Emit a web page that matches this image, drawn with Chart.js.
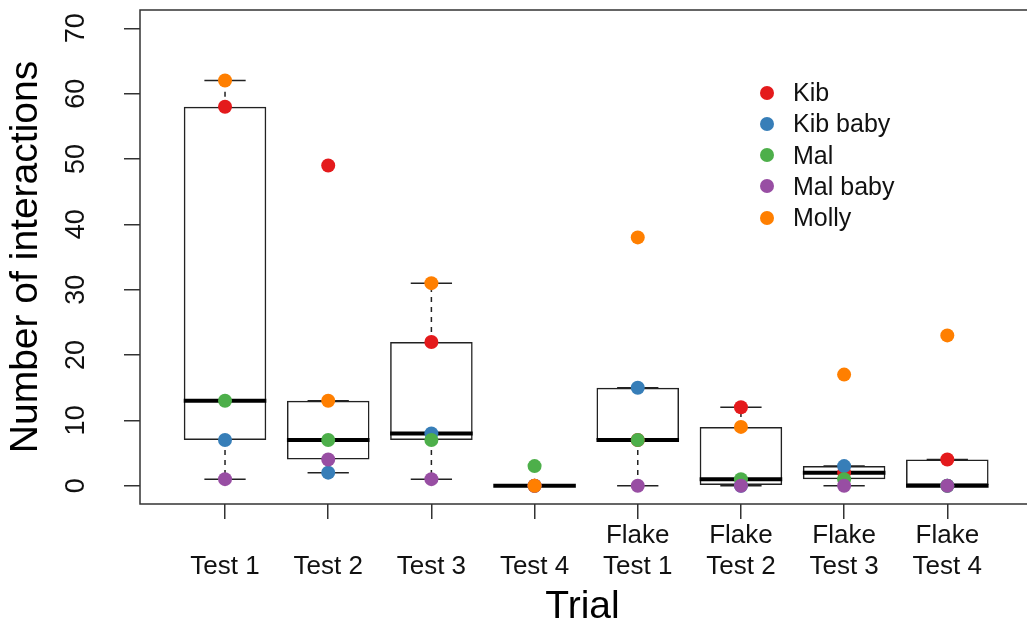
<!DOCTYPE html>
<html>
<head>
<meta charset="utf-8">
<script src="https://cdn.jsdelivr.net/npm/chart.js@4.4.1/dist/chart.umd.min.js"></script>
<style>
  html, body { margin: 0; padding: 0; background: #fff; }
  #wrap { position: relative; width: 1032px; height: 631px; overflow: hidden; }
  #legend {
    position: absolute; left: 760px; top: 77px;
    font-family: "Liberation Sans", Arial, sans-serif; font-size: 25px; color: #111;
  }
  #legend .row { height: 31.25px; display: flex; align-items: center; white-space: nowrap; }
  #legend .dot { width: 14px; height: 14px; border-radius: 50%; margin-right: 19px; }
</style>
</head>
<body>
<div id="wrap">
  <canvas id="trialChart" width="1032" height="631"></canvas>
  <div id="legend"></div>
</div>
<script>
//-----------------------------------------
// DATA
//-----------------------------------------
const trialLabels = [
  ["", "Test 1"], ["", "Test 2"], ["", "Test 3"], ["", "Test 4"],
  ["Flake", "Test 1"], ["Flake", "Test 2"], ["Flake", "Test 3"], ["Flake", "Test 4"]
];
const trialPos = [1, 2, 3, 4, 5, 6, 7, 8];

const animals = ["Kib", "Kib baby", "Mal", "Mal baby", "Molly"];
const animalColors = ["#E41A1C", "#377EB8", "#4DAF4A", "#984EA3", "#FF7F00"];

// interactions per trial, one array per animal
const kib     = [58, 49, 22, 0, 7, 12, 2, 4];
const kibBaby = [7, 2, 8, 0, 15, 0, 3, 0];
const mal     = [13, 7, 7, 3, 7, 1, 1, 0];
const malBaby = [1, 4, 1, 0, 0, 0, 0, 0];
const molly   = [62, 13, 31, 0, 38, 9, 17, 23];
const animalSeries = [kib, kibBaby, mal, malBaby, molly];

// boxplot stats per trial (hinges, median, whisker ends)
const boxLow      = [7, 4, 7, 0, 7, 0, 1, 0];
const boxMedian   = [13, 7, 8, 0, 7, 1, 2, 0];
const boxHigh     = [58, 13, 22, 0, 15, 9, 3, 4];
const whiskerLow  = [1, 2, 1, 0, 0, 0, 0, 0];
const whiskerHigh = [62, 13, 31, 0, 15, 12, 3, 4];

const yTicks = [0, 10, 20, 30, 40, 50, 60, 70];

const FONT = '"Liberation Sans", Arial, Helvetica, sans-serif';
Chart.defaults.font.family = FONT;
Chart.defaults.color = "#111";

//-----------------------------------------
// PLUGINS
//-----------------------------------------
// whiskers, staples and medians, drawn right after the boxes
const boxExtras = {
  id: "boxExtras",
  afterDatasetDraw(chart, args) {
    if (args.index !== 0) return;
    const ctx = chart.ctx;
    const xs = chart.scales.x, ys = chart.scales.y;
    const bars = chart.getDatasetMeta(0).data;

    ctx.save();
    for (let i = 0; i < trialPos.length; i++) {
      const x = xs.getPixelForValue(trialPos[i]);
      const w = bars[i].width;

      // dashed whiskers
      ctx.strokeStyle = "#222";
      ctx.lineWidth = 1.5;
      ctx.setLineDash([5, 5]);
      ctx.beginPath();
      if (whiskerHigh[i] > boxHigh[i]) {
        ctx.moveTo(x, ys.getPixelForValue(boxHigh[i]));
        ctx.lineTo(x, ys.getPixelForValue(whiskerHigh[i]));
      }
      if (whiskerLow[i] < boxLow[i]) {
        ctx.moveTo(x, ys.getPixelForValue(boxLow[i]));
        ctx.lineTo(x, ys.getPixelForValue(whiskerLow[i]));
      }
      ctx.stroke();

      // staples
      ctx.setLineDash([]);
      ctx.beginPath();
      for (const v of [whiskerLow[i], whiskerHigh[i]]) {
        const y = ys.getPixelForValue(v);
        ctx.moveTo(x - w / 4, y);
        ctx.lineTo(x + w / 4, y);
      }
      ctx.stroke();

      // median
      ctx.strokeStyle = "#000";
      ctx.lineWidth = 4;
      ctx.beginPath();
      const ym = ys.getPixelForValue(boxMedian[i]);
      ctx.moveTo(x - w / 2, ym);
      ctx.lineTo(x + w / 2, ym);
      ctx.stroke();
    }
    ctx.restore();
  }
};

// frame round the plot region (right side runs off the canvas)
const plotFrame = {
  id: "plotFrame",
  beforeDatasetsDraw(chart) {
    const { ctx, chartArea: a } = chart;
    ctx.save();
    ctx.strokeStyle = "#333";
    ctx.lineWidth = 1.5;
    ctx.beginPath();
    ctx.moveTo(a.right + 2, a.top);
    ctx.lineTo(a.left, a.top);
    ctx.lineTo(a.left, a.bottom);
    ctx.lineTo(a.right + 2, a.bottom);
    ctx.stroke();
    ctx.restore();
  }
};

//-----------------------------------------
// DATASETS
//-----------------------------------------
const boxDataset = {
  type: "bar",
  label: "box",
  data: trialPos.map((p, i) => ({ x: p, y: [boxLow[i], boxHigh[i]] })),
  backgroundColor: "rgba(255,255,255,0)",
  borderColor: "#222",
  borderWidth: 1.5,
  borderSkipped: false,
  barPercentage: 0.8,
  categoryPercentage: 1,
  order: 10
};

const pointDatasets = animals.map((name, k) => ({
  type: "line",
  label: name,
  data: trialPos.map((p, i) => ({ x: p, y: animalSeries[k][i] })),
  showLine: false,
  pointRadius: 7,
  pointHoverRadius: 7,
  pointBorderWidth: 0,
  pointBackgroundColor: animalColors[k],
  backgroundColor: animalColors[k],
  order: 5 - k   // later animals sit on top
}));

//-----------------------------------------
// CHART
//-----------------------------------------
new Chart(document.getElementById("trialChart"), {
  data: { datasets: [boxDataset, ...pointDatasets] },
  plugins: [plotFrame, boxExtras],
  options: {
    responsive: false,
    animation: false,
    events: [],
    layout: { padding: { top: 10, right: 0, left: 0, bottom: 0 } },
    plugins: { legend: { display: false }, tooltip: { enabled: false } },
    scales: {
      x: {
        type: "linear",
        min: 0.176,
        max: 8.753,
        offset: false,
        afterBuildTicks: s => { s.ticks = trialPos.map(v => ({ value: v })); },
        afterFit: s => { s.height = 127; s.paddingLeft = 0; s.paddingRight = 0; },
        ticks: {
          callback: (v, i) => trialLabels[i],
          font: { size: 26, lineHeight: 1.2 },
          color: "#111",
          padding: 1,
          maxRotation: 0,
          autoSkip: false
        },
        grid: { offset: false, drawOnChartArea: false, drawTicks: true, tickLength: 15, color: "#333", lineWidth: 1.5 },
        border: { display: false },
        title: { display: true, text: "Trial", font: { size: 39 }, color: "#000", padding: { top: 0, bottom: 0 } }
      },
      y: {
        type: "linear",
        min: -2.8,
        max: 72.8,
        afterBuildTicks: s => { s.ticks = yTicks.map(v => ({ value: v })); },
        afterFit: s => { s.width = 140; s.paddingTop = 0; s.paddingBottom = 0; },
        ticks: {
          font: { size: 27 },
          color: "#111",
          minRotation: 90,
          maxRotation: 90,
          crossAlign: "center",
          padding: 32
        },
        grid: { drawOnChartArea: false, drawTicks: true, tickLength: 16, color: "#333", lineWidth: 1.5 },
        border: { display: false },
        title: { display: true, text: "Number of interactions", font: { size: 39 }, color: "#000", padding: { top: 3, bottom: 0 } }
      }
    }
  }
});

//-----------------------------------------
// LEGEND
//-----------------------------------------
const legendBox = document.getElementById("legend");
animals.forEach((name, k) => {
  const row = document.createElement("div");
  row.className = "row";
  const dot = document.createElement("span");
  dot.className = "dot";
  dot.style.background = animalColors[k];
  row.appendChild(dot);
  row.appendChild(document.createTextNode(name));
  legendBox.appendChild(row);
});
</script>
</body>
</html>
